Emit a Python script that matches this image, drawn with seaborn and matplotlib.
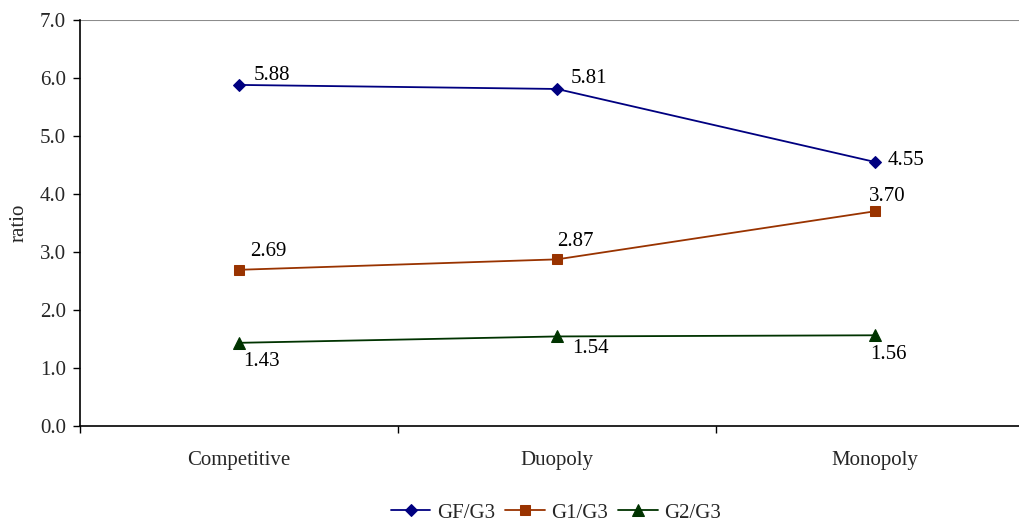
import matplotlib
matplotlib.use("Agg")
import matplotlib.pyplot as plt
import seaborn as sns
import pandas as pd

# Market structures on the x axis
categories = ["Competitive", "Duopoly", "Monopoly"]

# Ratio series
gf_g3 = [5.88, 5.81, 4.55]
g1_g3 = [2.69, 2.87, 3.70]
g2_g3 = [1.43, 1.54, 1.56]

series_names = ["GF/G3", "G1/G3", "G2/G3"]
series_values = [gf_g3, g1_g3, g2_g3]

y_ticks = [0.0, 1.0, 2.0, 3.0, 4.0, 5.0, 6.0, 7.0]

sns.set_theme(style="white")
plt.rcParams["font.family"] = ["Liberation Serif", "DejaVu Serif"]
plt.rcParams["font.size"] = 15

colors = {"GF/G3": "#000080", "G1/G3": "#993300", "G2/G3": "#003300"}
markers = {"GF/G3": "D", "G1/G3": "s", "G2/G3": "^"}
marker_sizes = {"GF/G3": 6.5, "G1/G3": 6.5, "G2/G3": 8}

# Label offsets (pixels) for each data label, per series
label_offsets = {
    "GF/G3": [(33, 9), (32, 10), (31, 1)],
    "G1/G3": [(29, 18), (18, 18), (12, 15)],
    "G2/G3": [(22, -19), (33, -12), (13, -19)],
}

rows = []
for name, vals in zip(series_names, series_values):
    for i, (cat, v) in enumerate(zip(categories, vals)):
        rows.append({"pos": i, "category": cat, "ratio": v, "series": name})
df = pd.DataFrame(rows)

fig = plt.figure(figsize=(10.19, 5.25), dpi=100)
ax = fig.add_axes([80 / 1019, 1 - 425.7 / 525, 954 / 1019, (425.7 - 20) / 525])

for name in series_names:
    sub = df[df["series"] == name]
    sns.lineplot(
        data=sub, x="pos", y="ratio", ax=ax, color=colors[name],
        marker=markers[name], markersize=marker_sizes[name],
        markeredgecolor=colors[name], linewidth=1.3, label=name,
    )
    for (_, r), off in zip(sub.iterrows(), label_offsets[name]):
        ax.annotate(f"{r['ratio']:.2f}", (r["pos"], r["ratio"]),
                    xytext=off, textcoords="offset pixels",
                    ha="center", va="center", fontsize=15, color="black")

ax.set_xlim(-0.5, 2.5)
ax.set_ylim(0, 7)
ax.set_yticks(y_ticks)
ax.set_yticklabels([f"{t:.1f}" for t in y_ticks])

# Tick marks at category boundaries, labels at category centres
ax.set_xticks([-0.5, 0.5, 1.5, 2.5])
ax.set_xticklabels([])
ax.set_xticks([0, 1, 2], minor=True)
ax.set_xticklabels(categories, minor=True)
ax.tick_params(axis="x", which="major", direction="out", length=5, width=1, color="black", bottom=True)
ax.tick_params(axis="x", which="minor", length=0, pad=18, labelsize=15)
ax.tick_params(axis="y", direction="out", length=5, width=1, color="black", left=True, labelsize=15, pad=5)

ax.axhline(7.0, color="#8c8c8c", linewidth=1.5, zorder=0)

for side in ["top", "right"]:
    ax.spines[side].set_visible(False)
for side in ["left", "bottom"]:
    ax.spines[side].set_color("black")
    ax.spines[side].set_linewidth(1.2)

ax.set_xlabel("")
ax.set_ylabel("ratio", fontsize=15, labelpad=8)

leg = ax.legend(loc="center", bbox_to_anchor=(556 / 1019, 1 - 513 / 525),
                bbox_transform=fig.transFigure, ncol=3, frameon=False,
                handlelength=1.9, handletextpad=0.3, columnspacing=0.5,
                fontsize=15)

fig.savefig("out.png", dpi=100)
